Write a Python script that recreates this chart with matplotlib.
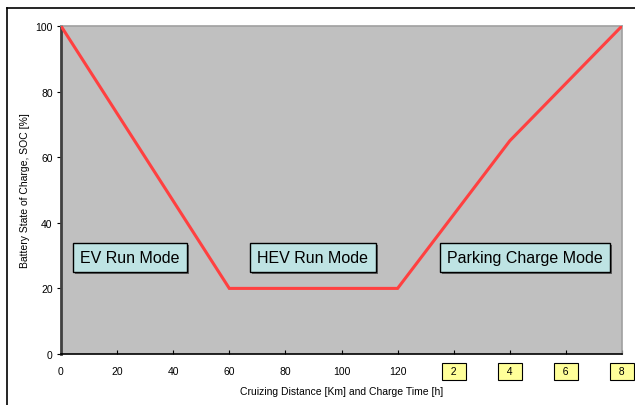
import matplotlib
matplotlib.use("Agg")
import matplotlib.pyplot as plt
import matplotlib.patheffects as pe

plt.rcParams['font.family'] = ['Liberation Sans', 'DejaVu Sans']

# Data
distance = [0, 60, 120, 160, 200]
soc = [100, 20, 20, 65, 100]
distance_ticks = [0, 20, 40, 60, 80, 100, 120]
charge_hours = [2, 4, 6, 8]
charge_positions = [140, 160, 180, 200]
y_ticks = [0, 20, 40, 60, 80, 100]
modes = ["EV Run Mode", "HEV Run Mode", "Parking Charge Mode"]
mode_x = [24.6, 89.8, 165.4]
mode_y = [29.5, 29.5, 29.5]

W, H = 635, 406
fig = plt.figure(figsize=(W / 100, H / 100), dpi=100)
fig.patch.set_facecolor('white')

# outer frame (left and top edges visible)
fig.add_artist(plt.Line2D([7 / W, 7 / W], [0, 1 - 9 / H], color='black', lw=1.2))
fig.add_artist(plt.Line2D([7 / W, 1], [1 - 9 / H, 1 - 9 / H], color='black', lw=1.2))

ax = fig.add_axes([61 / W, (H - 355) / H, (622 - 61) / W, (355 - 27) / H])
ax.set_facecolor('#C0C0C0')

ax.plot(distance, soc, color='#FF4040', lw=2.2, solid_joinstyle='miter', zorder=3)

ax.set_xlim(0, 200)
ax.set_ylim(0, 100)

ax.set_xticks(distance_ticks + charge_positions)
ax.set_xticklabels([str(v) for v in distance_ticks] + ['  %d  ' % h for h in charge_hours])
ax.set_yticks(y_ticks)
ax.tick_params(axis='both', labelsize=7.5, length=3, width=0.8, colors='black')
ax.tick_params(axis='x', direction='in', pad=9)
ax.tick_params(axis='y', direction='out', pad=3)

for lbl in ax.get_xticklabels()[len(distance_ticks):]:
    lbl.set_bbox(dict(boxstyle='square,pad=0.3', facecolor='#FFFF99', edgecolor='black', lw=0.8))

for s in ['top', 'right']:
    ax.spines[s].set_color('#A0A0A0')
    ax.spines[s].set_linewidth(1.2)
ax.spines['left'].set_color('#404040')
ax.spines['left'].set_linewidth(2)
ax.spines['bottom'].set_color('black')
ax.spines['bottom'].set_linewidth(1.2)

ax.set_xlabel("Cruizing Distance [Km] and Charge Time [h]", fontsize=7.5, labelpad=7)
ax.set_ylabel("Battery State of Charge, SOC [%]", fontsize=7.5, labelpad=4)

for name, mx, my in zip(modes, mode_x, mode_y):
    t = ax.text(mx, my, name, ha='center', va='center', fontsize=11.5, zorder=5,
                bbox=dict(boxstyle='square,pad=0.45', facecolor='#BEE3E3', edgecolor='black', lw=1.0))
    t.get_bbox_patch().set_path_effects([pe.SimplePatchShadow(offset=(1.5, -1.5), shadow_rgbFace='#606060', alpha=1), pe.Normal()])

fig.savefig('out.png', dpi=100)
